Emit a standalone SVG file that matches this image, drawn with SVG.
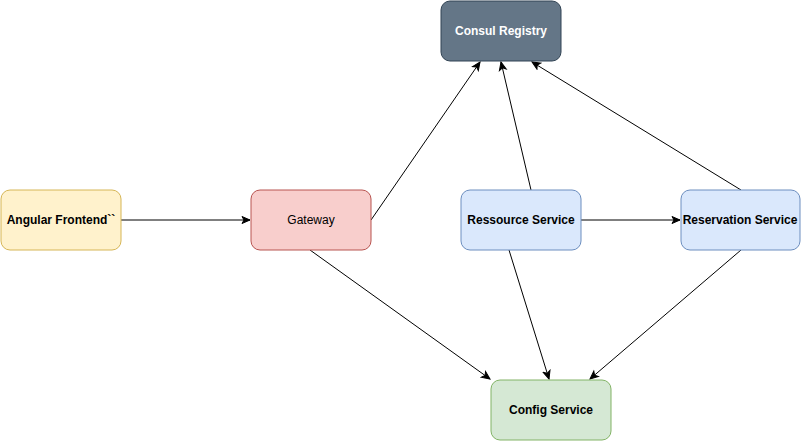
<svg xmlns="http://www.w3.org/2000/svg" width="801" height="441" viewBox="0 0 801 441">
<defs>
<marker id="arr" markerWidth="10" markerHeight="10" viewBox="0 0 10 10" refX="9" refY="5" orient="auto" markerUnits="userSpaceOnUse">
<path d="M1,1.5 L9,5 L1,8.5 L3,5 z" fill="#000" stroke="#000" stroke-width="1"/>
</marker>
</defs>
<style>
text{font-family:"Liberation Sans",Arial,sans-serif;font-size:12px;text-anchor:middle;dominant-baseline:central;fill:#000}
.b{font-weight:bold}
.e{fill:none;stroke:#000;stroke-width:1;marker-end:url(#arr)}
</style>
<rect width="801" height="441" fill="#fff"/>
<g id="edges">
<line class="e" x1="121" y1="220" x2="250" y2="220"/>
<line class="e" x1="371" y1="220" x2="480" y2="62"/>
<line class="e" x1="531" y1="190" x2="501" y2="62"/>
<line class="e" x1="741" y1="190" x2="532" y2="62"/>
<line class="e" x1="581" y1="220" x2="680" y2="220"/>
<line class="e" x1="310" y1="250" x2="490" y2="379"/>
<line class="e" x1="509" y1="250" x2="549" y2="379"/>
<line class="e" x1="741" y1="250" x2="590" y2="379"/>
</g>
<g id="consul">
<rect x="441" y="1" width="120" height="60" rx="9" fill="#647687" stroke="#314354"/>
<text class="b" x="501" y="31" style="fill:#fff">Consul Registry</text>
</g>
<g id="angular">
<rect x="1" y="190" width="120" height="60" rx="9" fill="#fff2cc" stroke="#d6b656"/>
<text class="b" x="61" y="220">Angular Frontend``</text>
</g>
<g id="gateway">
<rect x="251" y="190" width="120" height="60" rx="9" fill="#f8cecc" stroke="#b85450"/>
<text x="311" y="220">Gateway</text>
</g>
<g id="ressource">
<rect x="461" y="190" width="120" height="60" rx="9" fill="#dae8fc" stroke="#6c8ebf"/>
<text class="b" x="521" y="220">Ressource Service</text>
</g>
<g id="reservation">
<rect x="681" y="190" width="119" height="60" rx="9" fill="#dae8fc" stroke="#6c8ebf"/>
<text class="b" x="740" y="220">Reservation Service</text>
</g>
<g id="config">
<rect x="491" y="380" width="120" height="60" rx="9" fill="#d5e8d4" stroke="#82b366"/>
<text class="b" x="551" y="410">Config Service</text>
</g>
</svg>
